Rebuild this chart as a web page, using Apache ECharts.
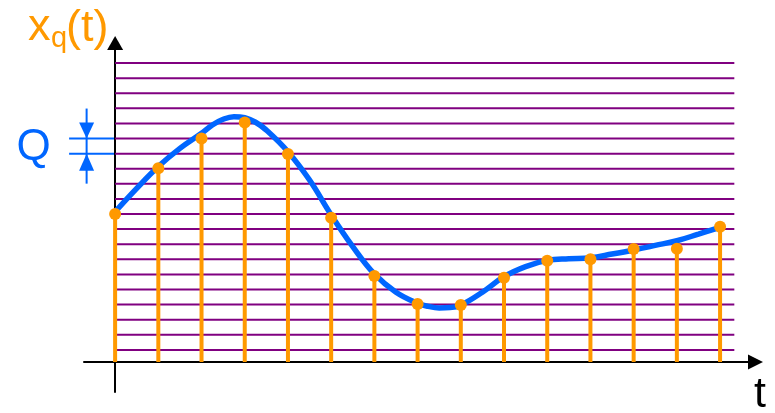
<!DOCTYPE html>
<html>
<head>
<meta charset="utf-8">
<script src="https://cdn.jsdelivr.net/npm/echarts@6/dist/echarts.min.js"></script>
<style>html,body{margin:0;padding:0;background:#fff;}#c{width:775px;height:413px;}</style>
</head>
<body>
<div id="c"></div>
<script>
// Sample instants (in sampling periods) and quantized sample values (in units of Q above the t axis)
var sampleT = [0, 1, 2, 3, 4, 5, 6, 7, 8, 9, 10, 11, 12, 13, 14];
var sampleV = [9.8, 12.83, 14.81, 15.87, 13.77, 9.55, 5.7, 3.84, 3.77, 5.58, 6.71, 6.8, 7.48, 7.5, 8.96];

// Continuous signal x(t)
var curveT = [0, 0.5, 1, 1.5, 2, 2.25, 2.5, 2.75, 3, 3.25, 3.5, 4, 4.5, 5, 5.5, 6, 6.5, 7, 7.25, 7.5, 7.75, 8, 8.5, 9, 9.5, 10, 10.5, 11, 11.5, 12, 12.5, 13, 13.5, 14];
var curveV = [9.95, 11.5, 12.95, 14.15, 15.15, 15.7, 16.08, 16.25, 16.18, 15.88, 15.36, 13.93, 12.05, 9.74, 7.64, 5.83, 4.62, 3.89, 3.68, 3.58, 3.6, 3.76, 4.62, 5.65, 6.32, 6.73, 6.84, 6.9, 7.15, 7.42, 7.72, 8.03, 8.47, 8.92];

// Quantization levels (units of Q above the t axis)
var levels = [0.8, 1.8, 2.8, 3.8, 4.8, 5.8, 6.8, 7.8, 8.8, 9.8, 10.8, 11.8, 12.8, 13.8, 14.8, 15.8, 16.8, 17.8, 18.8, 19.8];
var levelEndT = 14.33;
var qLevels = [14.8, 13.8];

var ORANGE = '#FF9900', BLUE = '#0066FF', PURPLE = '#800080';

var chart = echarts.init(document.getElementById('c'), null, {renderer: 'canvas'});

var option = {
  animation: false,
  backgroundColor: '#ffffff',
  grid: {left: 84, right: 19.5, top: 43, bottom: 21, containLabel: false},
  xAxis: {
    type: 'value', min: -0.72, max: 14.82,
    axisLine: {show: true, onZero: true, symbol: ['none', 'triangle'], symbolSize: [15, 15],
      lineStyle: {color: '#000', width: 2}},
    axisTick: {show: false}, axisLabel: {show: false}, splitLine: {show: false}
  },
  yAxis: {
    type: 'value', min: -1.99, max: 21.13,
    axisLine: {show: true, onZero: true, symbol: ['none', 'triangle'], symbolSize: [16, 14],
      lineStyle: {color: '#000', width: 2}},
    axisTick: {show: false}, axisLabel: {show: false}, splitLine: {show: false}
  },
  series: [
    {
      type: 'custom', z: 1,
      data: levels.map(function (v) { return [v]; }),
      renderItem: function (params, api) {
        var v = api.value(0);
        var p0 = api.coord([0, v]);
        var p1 = api.coord([levelEndT, v]);
        return {type: 'line', shape: {x1: p0[0], y1: p0[1], x2: p1[0], y2: p1[1]},
          style: {stroke: PURPLE, lineWidth: 2}};
      },
      silent: true
    },
    {
      type: 'line', z: 2, smooth: 0.4, showSymbol: false,
      data: curveT.map(function (t, i) { return [t, curveV[i]]; }),
      lineStyle: {color: BLUE, width: 5.5, cap: 'round'},
      silent: true
    },
    {
      type: 'custom', z: 3,
      data: sampleT.map(function (t, i) { return [t, sampleV[i]]; }),
      renderItem: function (params, api) {
        var p0 = api.coord([api.value(0), 0]);
        var p1 = api.coord([api.value(0), api.value(1)]);
        return {type: 'group', children: [
          {type: 'line', shape: {x1: p0[0], y1: p0[1], x2: p1[0], y2: p1[1]},
            style: {stroke: ORANGE, lineWidth: 4}},
          {type: 'circle', shape: {cx: p1[0], cy: p1[1], r: 6}, style: {fill: ORANGE}}
        ]};
      },
      silent: true
    }
  ]
};
chart.setOption(option);

// Annotations positioned from the axes
var yTop = chart.convertToPixel({xAxisIndex: 0, yAxisIndex: 0}, [0, qLevels[0]]);
var yBot = chart.convertToPixel({xAxisIndex: 0, yAxisIndex: 0}, [0, qLevels[1]]);
var ax = yTop[0];
var vx = ax - 28.5;
var graphics = [
  {type: 'line', shape: {x1: ax - 46, y1: yTop[1], x2: ax - 1, y2: yTop[1]}, style: {stroke: BLUE, lineWidth: 2}},
  {type: 'line', shape: {x1: ax - 46, y1: yBot[1], x2: ax - 1, y2: yBot[1]}, style: {stroke: BLUE, lineWidth: 2}},
  {type: 'line', shape: {x1: vx, y1: yTop[1] - 30, x2: vx, y2: yBot[1] + 30}, style: {stroke: BLUE, lineWidth: 2}},
  {type: 'polygon', shape: {points: [[vx - 7.5, yTop[1] - 16], [vx + 7.5, yTop[1] - 16], [vx, yTop[1]]]}, style: {fill: BLUE}},
  {type: 'polygon', shape: {points: [[vx - 7.5, yBot[1] + 17], [vx + 7.5, yBot[1] + 17], [vx, yBot[1]]]}, style: {fill: BLUE}},
  {type: 'text', x: 33.5, y: 148, style: {text: 'Q', fill: BLUE, font: '44px "Liberation Sans", Arial, sans-serif', align: 'center', verticalAlign: 'middle'}},
  {type: 'text', x: 28, y: 28, style: {text: 'x', fill: ORANGE, font: '45px "Liberation Sans", Arial, sans-serif', align: 'left', verticalAlign: 'middle'}},
  {type: 'text', x: 51, y: 39, style: {text: 'q', fill: ORANGE, font: '29px "Liberation Sans", Arial, sans-serif', align: 'left', verticalAlign: 'middle'}},
  {type: 'text', x: 66, y: 28.5, style: {text: '(t)', fill: ORANGE, font: '45px "Liberation Sans", Arial, sans-serif', align: 'left', verticalAlign: 'middle'}},
  {type: 'text', x: 760, y: 395.5, style: {text: 't', fill: '#000', font: '43px "Liberation Sans", Arial, sans-serif', align: 'center', verticalAlign: 'middle'}}
];
chart.setOption({graphic: graphics});
</script>
</body>
</html>
